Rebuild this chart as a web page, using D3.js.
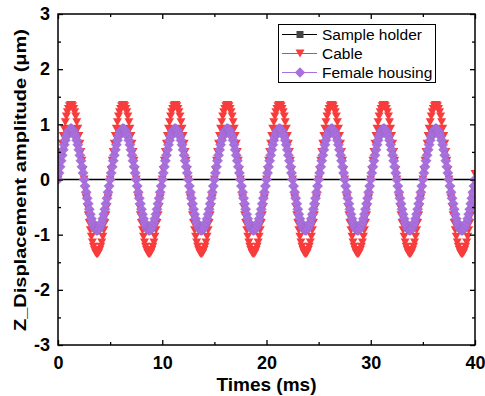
<!DOCTYPE html>
<html><head><meta charset="utf-8">
<script src="https://cdn.jsdelivr.net/npm/d3@7"></script>
<style>
html,body{margin:0;padding:0;background:#fff;}
svg{display:block;font-family:"Liberation Sans",Arial,sans-serif;}
</style></head>
<body>
<svg id="chart" width="485" height="396"></svg>
<script>
// ---- data ----
const xTicks = [0, 10, 20, 30, 40];
const xMinorTicks = [5, 15, 25, 35];
const yTicks = [-3, -2, -1, 0, 1, 2, 3];
const yMinorTicks = [-2.5, -1.5, -0.5, 0.5, 1.5, 2.5];
const seriesNames = ["Sample holder", "Cable", "Female housing"];
const timeStepMs = 0.1; // sampling interval of Cable / Female housing

const sampleHolderTimes = [0, 40];
const sampleHolder = [0, 0];

const cable = [
0,0.17,0.34,0.5,0.65,0.79,0.92,1.04,1.14,1.22,1.28,1.33,1.35,1.35,1.33,1.28,1.22,1.14,1.04,0.92,0.79,0.65,0.5,0.34,0.17,0,-0.17,-0.34,-0.5,-0.65,-0.79,-0.92,-1.04,-1.14,-1.22,-1.28,-1.33,-1.35,-1.35,-1.33,-1.28,-1.22,-1.14,-1.04,-0.92,-0.79,-0.65,-0.5,-0.34,-0.17,
0,0.17,0.34,0.5,0.65,0.79,0.92,1.04,1.14,1.22,1.28,1.33,1.35,1.35,1.33,1.28,1.22,1.14,1.04,0.92,0.79,0.65,0.5,0.34,0.17,0,-0.17,-0.34,-0.5,-0.65,-0.79,-0.92,-1.04,-1.14,-1.22,-1.28,-1.33,-1.35,-1.35,-1.33,-1.28,-1.22,-1.14,-1.04,-0.92,-0.79,-0.65,-0.5,-0.34,-0.17,
0,0.17,0.34,0.5,0.65,0.79,0.92,1.04,1.14,1.22,1.28,1.33,1.35,1.35,1.33,1.28,1.22,1.14,1.04,0.92,0.79,0.65,0.5,0.34,0.17,0,-0.17,-0.34,-0.5,-0.65,-0.79,-0.92,-1.04,-1.14,-1.22,-1.28,-1.33,-1.35,-1.35,-1.33,-1.28,-1.22,-1.14,-1.04,-0.92,-0.79,-0.65,-0.5,-0.34,-0.17,
0,0.17,0.34,0.5,0.65,0.79,0.92,1.04,1.14,1.22,1.28,1.33,1.35,1.35,1.33,1.28,1.22,1.14,1.04,0.92,0.79,0.65,0.5,0.34,0.17,0,-0.17,-0.34,-0.5,-0.65,-0.79,-0.92,-1.04,-1.14,-1.22,-1.28,-1.33,-1.35,-1.35,-1.33,-1.28,-1.22,-1.14,-1.04,-0.92,-0.79,-0.65,-0.5,-0.34,-0.17,
0,0.17,0.34,0.5,0.65,0.79,0.92,1.04,1.14,1.22,1.28,1.33,1.35,1.35,1.33,1.28,1.22,1.14,1.04,0.92,0.79,0.65,0.5,0.34,0.17,0,-0.17,-0.34,-0.5,-0.65,-0.79,-0.92,-1.04,-1.14,-1.22,-1.28,-1.33,-1.35,-1.35,-1.33,-1.28,-1.22,-1.14,-1.04,-0.92,-0.79,-0.65,-0.5,-0.34,-0.17,
0,0.17,0.34,0.5,0.65,0.79,0.92,1.04,1.14,1.22,1.28,1.33,1.35,1.35,1.33,1.28,1.22,1.14,1.04,0.92,0.79,0.65,0.5,0.34,0.17,0,-0.17,-0.34,-0.5,-0.65,-0.79,-0.92,-1.04,-1.14,-1.22,-1.28,-1.33,-1.35,-1.35,-1.33,-1.28,-1.22,-1.14,-1.04,-0.92,-0.79,-0.65,-0.5,-0.34,-0.17,
0,0.17,0.34,0.5,0.65,0.79,0.92,1.04,1.14,1.22,1.28,1.33,1.35,1.35,1.33,1.28,1.22,1.14,1.04,0.92,0.79,0.65,0.5,0.34,0.17,0,-0.17,-0.34,-0.5,-0.65,-0.79,-0.92,-1.04,-1.14,-1.22,-1.28,-1.33,-1.35,-1.35,-1.33,-1.28,-1.22,-1.14,-1.04,-0.92,-0.79,-0.65,-0.5,-0.34,-0.17,
0,0.17,0.34,0.5,0.65,0.79,0.92,1.04,1.14,1.22,1.28,1.33,1.35,1.35,1.33,1.28,1.22,1.14,1.04,0.92,0.79,0.65,0.5,0.34,0.17,0,-0.17,-0.34,-0.5,-0.65,-0.79,-0.92,-1.04,-1.14,-1.22,-1.28,-1.33,-1.35,-1.35,-1.33,-1.28,-1.22,-1.14,-1.04,-0.92,-0.79,-0.65,-0.5,-0.34,-0.17,
0.1
];

const femaleHousing = [
0,0.12,0.23,0.34,0.44,0.54,0.63,0.71,0.78,0.83,0.88,0.9,0.92,0.92,0.9,0.88,0.83,0.78,0.71,0.63,0.54,0.44,0.34,0.23,0.12,0,-0.12,-0.23,-0.34,-0.44,-0.54,-0.63,-0.71,-0.78,-0.83,-0.88,-0.9,-0.92,-0.92,-0.9,-0.88,-0.83,-0.78,-0.71,-0.63,-0.54,-0.44,-0.34,-0.23,-0.12,
0,0.12,0.23,0.34,0.44,0.54,0.63,0.71,0.78,0.83,0.88,0.9,0.92,0.92,0.9,0.88,0.83,0.78,0.71,0.63,0.54,0.44,0.34,0.23,0.12,0,-0.12,-0.23,-0.34,-0.44,-0.54,-0.63,-0.71,-0.78,-0.83,-0.88,-0.9,-0.92,-0.92,-0.9,-0.88,-0.83,-0.78,-0.71,-0.63,-0.54,-0.44,-0.34,-0.23,-0.12,
0,0.12,0.23,0.34,0.44,0.54,0.63,0.71,0.78,0.83,0.88,0.9,0.92,0.92,0.9,0.88,0.83,0.78,0.71,0.63,0.54,0.44,0.34,0.23,0.12,0,-0.12,-0.23,-0.34,-0.44,-0.54,-0.63,-0.71,-0.78,-0.83,-0.88,-0.9,-0.92,-0.92,-0.9,-0.88,-0.83,-0.78,-0.71,-0.63,-0.54,-0.44,-0.34,-0.23,-0.12,
0,0.12,0.23,0.34,0.44,0.54,0.63,0.71,0.78,0.83,0.88,0.9,0.92,0.92,0.9,0.88,0.83,0.78,0.71,0.63,0.54,0.44,0.34,0.23,0.12,0,-0.12,-0.23,-0.34,-0.44,-0.54,-0.63,-0.71,-0.78,-0.83,-0.88,-0.9,-0.92,-0.92,-0.9,-0.88,-0.83,-0.78,-0.71,-0.63,-0.54,-0.44,-0.34,-0.23,-0.12,
0,0.12,0.23,0.34,0.44,0.54,0.63,0.71,0.78,0.83,0.88,0.9,0.92,0.92,0.9,0.88,0.83,0.78,0.71,0.63,0.54,0.44,0.34,0.23,0.12,0,-0.12,-0.23,-0.34,-0.44,-0.54,-0.63,-0.71,-0.78,-0.83,-0.88,-0.9,-0.92,-0.92,-0.9,-0.88,-0.83,-0.78,-0.71,-0.63,-0.54,-0.44,-0.34,-0.23,-0.12,
0,0.12,0.23,0.34,0.44,0.54,0.63,0.71,0.78,0.83,0.88,0.9,0.92,0.92,0.9,0.88,0.83,0.78,0.71,0.63,0.54,0.44,0.34,0.23,0.12,0,-0.12,-0.23,-0.34,-0.44,-0.54,-0.63,-0.71,-0.78,-0.83,-0.88,-0.9,-0.92,-0.92,-0.9,-0.88,-0.83,-0.78,-0.71,-0.63,-0.54,-0.44,-0.34,-0.23,-0.12,
0,0.12,0.23,0.34,0.44,0.54,0.63,0.71,0.78,0.83,0.88,0.9,0.92,0.92,0.9,0.88,0.83,0.78,0.71,0.63,0.54,0.44,0.34,0.23,0.12,0,-0.12,-0.23,-0.34,-0.44,-0.54,-0.63,-0.71,-0.78,-0.83,-0.88,-0.9,-0.92,-0.92,-0.9,-0.88,-0.83,-0.78,-0.71,-0.63,-0.54,-0.44,-0.34,-0.23,-0.12,
0,0.12,0.23,0.34,0.44,0.54,0.63,0.71,0.78,0.83,0.88,0.9,0.92,0.92,0.9,0.88,0.83,0.78,0.71,0.63,0.54,0.44,0.34,0.23,0.12,0,-0.12,-0.23,-0.34,-0.44,-0.54,-0.63,-0.71,-0.78,-0.83,-0.88,-0.9,-0.92,-0.92,-0.9,-0.88,-0.83,-0.78,-0.71,-0.63,-0.54,-0.44,-0.34,-0.23,-0.12,
0
];

// ---- drawing ----
const W = 485, H = 396;
const plot = {left: 58, right: 475, top: 14, bottom: 345};
const svg = d3.select("#chart");

const x = d3.scaleLinear().domain([0, 40]).range([plot.left, plot.right]);
const y = d3.scaleLinear().domain([-3, 3]).range([plot.bottom, plot.top]);

const colors = {holder: "#000000", holderMarker: "#444444", cable: "#f83c3c", female: "#a96fdc"};

svg.append("defs").append("clipPath").attr("id", "clip")
  .append("rect").attr("x", plot.left).attr("y", plot.top)
  .attr("width", plot.right - plot.left).attr("height", plot.bottom - plot.top);

const tri = (w, h) => `M${-w/2},${-h/2}L${w/2},${-h/2}L0,${h/2}Z`;
const dia = (r) => `M0,${-r}L${r},0L0,${r}L${-r},0Z`;
const sq = (s) => `M${-s/2},${-s/2}h${s}v${s}h${-s}Z`;

const dataArea = svg.append("g").attr("clip-path", "url(#clip)");
const line = d3.line().x(d => x(d.t)).y(d => y(d.v));

const holderData = sampleHolder.map((v, i) => ({t: sampleHolderTimes[i], v}));
const cableData = cable.map((v, i) => ({t: +(i * timeStepMs).toFixed(2), v}));
const femaleData = femaleHousing.map((v, i) => ({t: +(i * timeStepMs).toFixed(2), v}));

dataArea.append("path").datum(holderData).attr("d", line)
  .attr("fill", "none").attr("stroke", colors.holder).attr("stroke-width", 1.3);

dataArea.append("path").datum(cableData).attr("d", line)
  .attr("fill", "none").attr("stroke", colors.cable).attr("stroke-width", 1);
dataArea.append("g").selectAll("path").data(cableData).join("path")
  .attr("transform", d => `translate(${x(d.t)},${y(d.v)})`)
  .attr("d", tri(9, 8)).attr("fill", colors.cable);

dataArea.append("path").datum(femaleData).attr("d", line)
  .attr("fill", "none").attr("stroke", colors.female).attr("stroke-width", 1);
dataArea.append("g").selectAll("path").data(femaleData).join("path")
  .attr("transform", d => `translate(${x(d.t)},${y(d.v)})`)
  .attr("d", dia(5.2)).attr("fill", colors.female)
  .attr("stroke", "#8a5cb8").attr("stroke-width", 0.3);

// axes
const fmt = d => String(d); // plain hyphen-minus, as in the reference
const axisStyle = g => {
  g.select(".domain").remove();
  g.selectAll(".tick line").attr("stroke", "#000").attr("stroke-width", 1.3);
  g.selectAll("text").attr("font-size", 18).attr("font-weight", "bold").attr("fill", "#000")
    .attr("font-family", "'Liberation Sans', Arial, sans-serif");
};

svg.append("g").attr("transform", `translate(0,${plot.bottom})`)
  .call(d3.axisBottom(x).tickValues(xTicks).tickSizeInner(-5).tickSizeOuter(0).tickPadding(11).tickFormat(fmt))
  .call(axisStyle);
svg.append("g").attr("transform", `translate(0,${plot.bottom})`)
  .call(d3.axisBottom(x).tickValues(xMinorTicks).tickSizeInner(-3).tickSizeOuter(0).tickFormat(""))
  .call(axisStyle);
svg.append("g").attr("transform", `translate(0,${plot.top})`)
  .call(d3.axisTop(x).tickValues(xTicks).tickSizeInner(-5).tickSizeOuter(0).tickFormat(""))
  .call(axisStyle);
svg.append("g").attr("transform", `translate(0,${plot.top})`)
  .call(d3.axisTop(x).tickValues(xMinorTicks).tickSizeInner(-3).tickSizeOuter(0).tickFormat(""))
  .call(axisStyle);

svg.append("g").attr("transform", `translate(${plot.left},0)`)
  .call(d3.axisLeft(y).tickValues(yTicks).tickSizeInner(-5).tickSizeOuter(0).tickPadding(8).tickFormat(fmt))
  .call(axisStyle);
svg.append("g").attr("transform", `translate(${plot.left},0)`)
  .call(d3.axisLeft(y).tickValues(yMinorTicks).tickSizeInner(-3).tickSizeOuter(0).tickFormat(""))
  .call(axisStyle);
svg.append("g").attr("transform", `translate(${plot.right},0)`)
  .call(d3.axisRight(y).tickValues(yTicks).tickSizeInner(-5).tickSizeOuter(0).tickFormat(""))
  .call(axisStyle);
svg.append("g").attr("transform", `translate(${plot.right},0)`)
  .call(d3.axisRight(y).tickValues(yMinorTicks).tickSizeInner(-3).tickSizeOuter(0).tickFormat(""))
  .call(axisStyle);

// frame
svg.append("rect").attr("x", plot.left).attr("y", plot.top)
  .attr("width", plot.right - plot.left).attr("height", plot.bottom - plot.top)
  .attr("fill", "none").attr("stroke", "#000").attr("stroke-width", 1.5);

// axis titles
svg.append("text").attr("x", (plot.left + plot.right) / 2).attr("y", 391)
  .attr("text-anchor", "middle").attr("font-size", 19).attr("font-weight", "bold")
  .text("Times (ms)");
svg.append("text").attr("transform", `translate(25.5,180) rotate(-90)`)
  .attr("text-anchor", "middle").attr("font-size", 16).attr("font-weight", "bold")
  .attr("textLength", 302).attr("lengthAdjust", "spacingAndGlyphs")
  .text("Z_Displacement amplitude (μm)");

// legend
const leg = svg.append("g");
leg.append("rect").attr("x", 278.5).attr("y", 24.5).attr("width", 157).attr("height", 58)
  .attr("fill", "#fff").attr("stroke", "#000").attr("stroke-width", 1);
const legItems = [
  {name: seriesNames[0], color: colors.holder, mColor: colors.holderMarker, shape: sq(7)},
  {name: seriesNames[1], color: colors.cable, mColor: colors.cable, shape: tri(9, 8)},
  {name: seriesNames[2], color: colors.female, mColor: colors.female, shape: dia(5.2)}
];
legItems.forEach((it, i) => {
  const cy = 34.5 + i * 19;
  leg.append("line").attr("x1", 282).attr("x2", 317).attr("y1", cy).attr("y2", cy)
    .attr("stroke", it.color).attr("stroke-width", 1);
  leg.append("path").attr("transform", `translate(300,${cy})`).attr("d", it.shape).attr("fill", it.mColor);
  leg.append("text").attr("x", 322).attr("y", cy + 5.5).attr("font-size", 15.5).attr("fill", "#000")
    .text(it.name);
});
</script>
</body></html>
